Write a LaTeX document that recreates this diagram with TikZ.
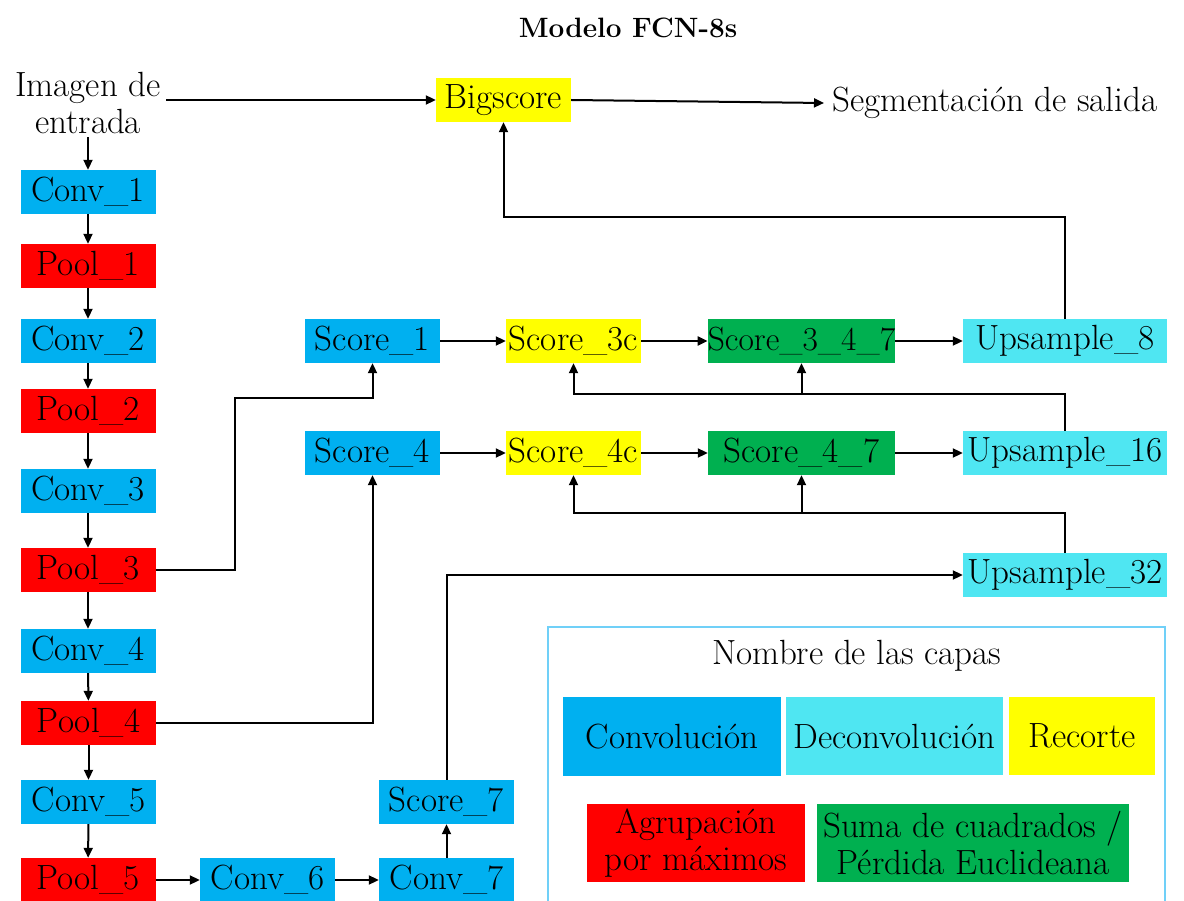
\documentclass[tikz,border=0pt]{standalone}
\usepackage{fontspec}
\usetikzlibrary{arrows.meta}
\definecolor{cblue}{HTML}{00B0F0}
\definecolor{ccyan}{HTML}{4FE6F2}
\definecolor{cyellow}{HTML}{FFFF00}
\definecolor{cred}{HTML}{FF0000}
\definecolor{cgreen}{HTML}{00B050}
\definecolor{cborder}{HTML}{70D0F8}
\begin{document}
\begin{tikzpicture}[x=1pt,y=-1pt,
  font=\fontsize{35}{37}\selectfont,
  layer/.style={rectangle, inner sep=0pt, anchor=center},
  conv/.style={layer, fill=cblue},
  pool/.style={layer, fill=cred},
  crop/.style={layer, fill=cyellow},
  sum/.style={layer, fill=cgreen},
  deconv/.style={layer, fill=ccyan},
  colbox/.style={minimum width=135pt, minimum height=44pt},
  widebox/.style={minimum width=187pt, minimum height=44pt},
  upbox/.style={minimum width=204pt, minimum height=44pt},
  arr/.style={-{Triangle[length=10pt,width=9pt]}, line width=2pt},
  wire/.style={line width=2pt}]
\useasboundingbox (0,0) rectangle (1184,901);

% title and outer texts
\node[font=\fontsize{28}{32}\selectfont\bfseries] (title) at (628,28) {Modelo FCN-8s};
\node[align=center] (img) at (88,103) {Imagen de\\entrada};
\node[crop, colbox] (big) at (503.5,100) {Bigscore};
\node[anchor=west, inner sep=0pt] (out) at (832,103) {Segmentación de salida};

% encoder column
\node[conv, colbox] (conv1) at (88,192) {Conv\_1};
\node[pool, colbox] (pool1) at (88,266) {Pool\_1};
\node[conv, colbox] (conv2) at (88,341) {Conv\_2};
\node[pool, colbox] (pool2) at (88,411) {Pool\_2};
\node[conv, colbox] (conv3) at (88,491) {Conv\_3};
\node[pool, colbox] (pool3) at (88,570) {Pool\_3};
\node[conv, colbox] (conv4) at (88,651) {Conv\_4};
\node[pool, colbox] (pool4) at (88.5,723) {Pool\_4};
\node[conv, colbox] (conv5) at (88.5,802) {Conv\_5};
\node[pool, colbox] (pool5) at (88,880) {Pool\_5};
\node[conv, colbox] (conv6) at (267.5,880) {Conv\_6};
\node[conv, colbox] (conv7) at (446.5,880) {Conv\_7};
\node[conv, colbox] (score7) at (446.5,802) {Score\_7};

% score / fusion rows
\node[conv, colbox] (score1) at (372.5,341) {Score\_1};
\node[conv, colbox] (score4) at (372.5,453) {Score\_4};
\node[crop, colbox] (score3c) at (573.5,341) {Score\_3c};
\node[crop, colbox] (score4c) at (573.5,453) {Score\_4c};
\node[sum, widebox, font=\fontsize{33.5}{37}\selectfont] (s347) at (801.5,341) {Score\_3\_4\_7};
\node[sum, widebox] (s47) at (801.5,453) {Score\_4\_7};
\node[deconv, upbox] (up8) at (1065,341) {Upsample\_8};
\node[deconv, upbox] (up16) at (1065,453) {Upsample\_16};
\node[deconv, upbox] (up32) at (1065,575) {Upsample\_32};

% connectors
\draw[arr] ([xshift=2pt]img.east |- big.west) -- (big.west);
\draw[arr] (big.east) -- ([xshift=-8pt]out.west);
\draw[arr] (img.south) -- (conv1.north);
\draw[arr] (conv1) -- (pool1);
\draw[arr] (pool1) -- (conv2);
\draw[arr] (conv2) -- (pool2);
\draw[arr] (pool2) -- (conv3);
\draw[arr] (conv3) -- (pool3);
\draw[arr] (pool3) -- (conv4);
\draw[arr] (conv4) -- (pool4);
\draw[arr] (pool4) -- (conv5);
\draw[arr] (conv5) -- (pool5);
\draw[arr] (pool5) -- (conv6);
\draw[arr] (conv6) -- (conv7);
\draw[arr] (conv7) -- (score7);
\draw[arr] (score7.north) |- (up32.west);

\draw[arr] (pool3.east) -| (235,398) -| (score1.south);
\draw[arr] (pool4.east) -| (score4.south);

\draw[arr] (score1) -- (score3c);
\draw[arr] (score3c) -- (s347);
\draw[arr] (s347) -- (up8);
\draw[arr] (score4) -- (score4c);
\draw[arr] (score4c) -- (s47);
\draw[arr] (s47) -- (up16);

\draw[arr] (up8.north) -- ++(0,-102) -| (big.south);
\draw[arr] (up16.north) -- ++(0,-37) coordinate (j16) -| (score3c.south);
\draw[arr] (s347.south |- j16) -- (s347.south);
\draw[arr] (up32.north) -- ++(0,-40) coordinate (j32) -| (score4c.south);
\draw[arr] (s47.south |- j32) -- (s47.south);

% legend
\draw[cborder, line width=2pt] (548,627) rectangle (1165,940);
\node (legtitle) at (857,656) {Nombre de las capas};
\node[conv, minimum width=218pt, minimum height=79pt] (lconv) at (672,736.5) {Convolución};
\node[deconv, minimum width=217pt, minimum height=78pt] (ldeconv) at (894.5,736) {Deconvolución};
\node[crop, minimum width=146pt, minimum height=78pt] (lcrop) at (1082,736) {Recorte};
\node[pool, minimum width=218pt, minimum height=78pt, align=center] (lpool) at (696,843) {Agrupación\\por máximos};
\node[sum, minimum width=312pt, minimum height=78pt, align=center] (lsum) at (973,843) {Suma de cuadrados /\\Pérdida Euclideana};
\end{tikzpicture}
\end{document}
